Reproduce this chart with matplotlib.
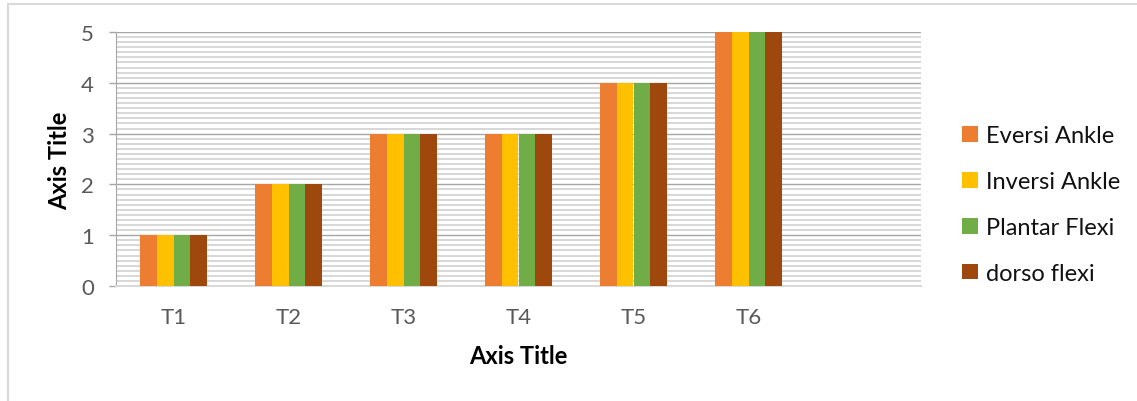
import matplotlib
matplotlib.use("Agg")
import matplotlib.pyplot as plt
import numpy as np
from matplotlib.patches import Rectangle
from matplotlib.ticker import MultipleLocator

categories = ["T1", "T2", "T3", "T4", "T5", "T6", ""]
series_names = ["Eversi Ankle", "Inversi Ankle", "Plantar Flexi", "dorso flexi"]
eversi = [1, 2, 3, 3, 4, 5, np.nan]
inversi = [1, 2, 3, 3, 4, 5, np.nan]
plantar = [1, 2, 3, 3, 4, 5, np.nan]
dorso = [1, 2, 3, 3, 4, 5, np.nan]
colors = ["#ED7D31", "#FFC000", "#70AD47", "#9E480E"]

plt.rcParams['font.family'] = ['Lato', 'DejaVu Sans']

W, H = 1137, 402
fig = plt.figure(figsize=(W / 100, H / 100), dpi=100)
fig.patch.set_facecolor("white")

# outer chart frame (right/bottom cropped)
fig.add_artist(Rectangle((8 / W, -0.1), 1.2, 1 - 5 / H + 0.1, transform=fig.transFigure,
                         fill=False, edgecolor="#d9d9d9", linewidth=1.5))

ax = fig.add_axes([116 / W, 1 - 287 / H, (921 - 116) / W, (287 - 33) / H])
x = np.arange(len(categories))
bw = 0.1435
series = [eversi, inversi, plantar, dorso]
for i, (vals, name, c) in enumerate(zip(series, series_names, colors)):
    ax.bar(x + (i - 1.5) * bw, vals, width=bw, color=c, label=name, zorder=3, linewidth=0)

ax.set_xlim(-0.5, len(categories) - 0.5)
ax.set_ylim(0, 5)
ax.set_xticks(x)
ax.set_xticklabels(categories)
ax.yaxis.set_major_locator(MultipleLocator(1))
ax.yaxis.set_minor_locator(MultipleLocator(0.1))
ax.grid(which="major", axis="y", color="#a6a6a6", linewidth=1.0, zorder=1)
ax.grid(which="minor", axis="y", color="#d4d4d4", linewidth=1.3, zorder=0)
ax.tick_params(axis="x", length=0, pad=15, labelsize=16, labelcolor="#595959")
ax.tick_params(axis="y", which="major", length=5, width=1, color="#a6a6a6", pad=11,
               labelsize=16, labelcolor="#595959")
ax.tick_params(axis="y", which="minor", length=0)
for s in ["top", "right"]:
    ax.spines[s].set_visible(False)
ax.spines["left"].set_color("#a6a6a6")
ax.spines["bottom"].set_color("#d9d9d9")
ax.spines["bottom"].set_linewidth(1.5)
ax.set_axisbelow(True)

fig.text(518 / W, 1 - 357 / H, "Axis Title", ha="center", va="center",
         fontsize=17, fontweight="bold", color="#000000")
fig.text(60 / W, 1 - 161 / H, "Axis Title", ha="center", va="center", rotation=90,
         fontsize=17, fontweight="bold", color="#000000")

leg = fig.legend(loc="upper left", bbox_to_anchor=(953 / W, 1 - 117 / H), frameon=False,
                 fontsize=17, handlelength=0.65, handleheight=0.65, handletextpad=0.35,
                 labelspacing=1.05, borderaxespad=0)
for t in leg.get_texts():
    t.set_color("#111111")

fig.savefig("out.png", dpi=100, facecolor="white")
